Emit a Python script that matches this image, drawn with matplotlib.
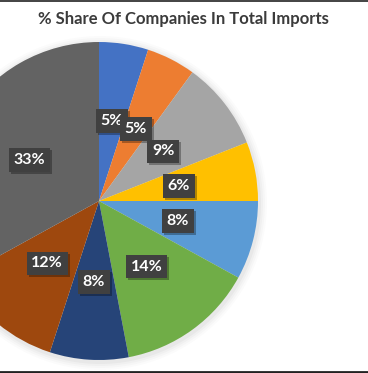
import matplotlib
matplotlib.use("Agg")
import matplotlib.pyplot as plt
import matplotlib.patheffects as pe
from matplotlib.patches import Circle

# data
shares = [5, 5, 9, 6, 8, 14, 8, 12, 33]
colors = ["#4472C4", "#ED7D31", "#A5A5A5", "#FFC000", "#5B9BD5",
          "#70AD47", "#264478", "#9E480E", "#636363"]
title = "% Share Of Companies In Total Imports"

W, H = 368, 373
fig = plt.figure(figsize=(W / 100, H / 100), dpi=100)
fig.set_facecolor("white")
ax = fig.add_axes([0, 0, 1, 1])

cx, cy, r = 99, H - 201, 159

# soft shadow behind the pie
for grow, alpha in [(8, 0.015), (6, 0.02), (4, 0.025), (2, 0.03)]:
    ax.add_patch(Circle((cx + 1, cy - 2), r + grow, color="black", alpha=alpha, lw=0, zorder=0))

wedges, texts, autotexts = ax.pie(
    shares, colors=colors, startangle=90, counterclock=False,
    center=(cx, cy), radius=r, frame=True,
    autopct=lambda p: f"{p:.0f}%", pctdistance=0.51,
    wedgeprops=dict(linewidth=0),
    textprops=dict(color="white", fontsize=11.5, fontweight="bold", family="Lato"),
)
ax.set_xlim(0, W)
ax.set_ylim(0, H)
ax.set_aspect("equal")
ax.axis("off")

for t in autotexts:
    t.set_bbox(dict(boxstyle="square,pad=0.3", fc="#404040", ec="none"))
    t.get_bbox_patch().set_path_effects([
        pe.SimplePatchShadow(offset=(1.5, -1.5), shadow_rgbFace="black", alpha=0.3),
        pe.Normal(),
    ])

fig.text(183 / W, 1 - 19 / H, title, ha="center", va="center",
         fontsize=12, fontweight="bold", color="#3b3b3b", family="Lato")

# dark frame lines at the top and bottom edge of the screenshot
fig.add_artist(plt.Line2D([0, 1], [1 - 0.5 / H, 1 - 0.5 / H], color="#222222", lw=1.2))
fig.add_artist(plt.Line2D([0, 1], [1.2 / H, 1.2 / H], color="#222222", lw=2))

fig.savefig("out.png", dpi=100)
